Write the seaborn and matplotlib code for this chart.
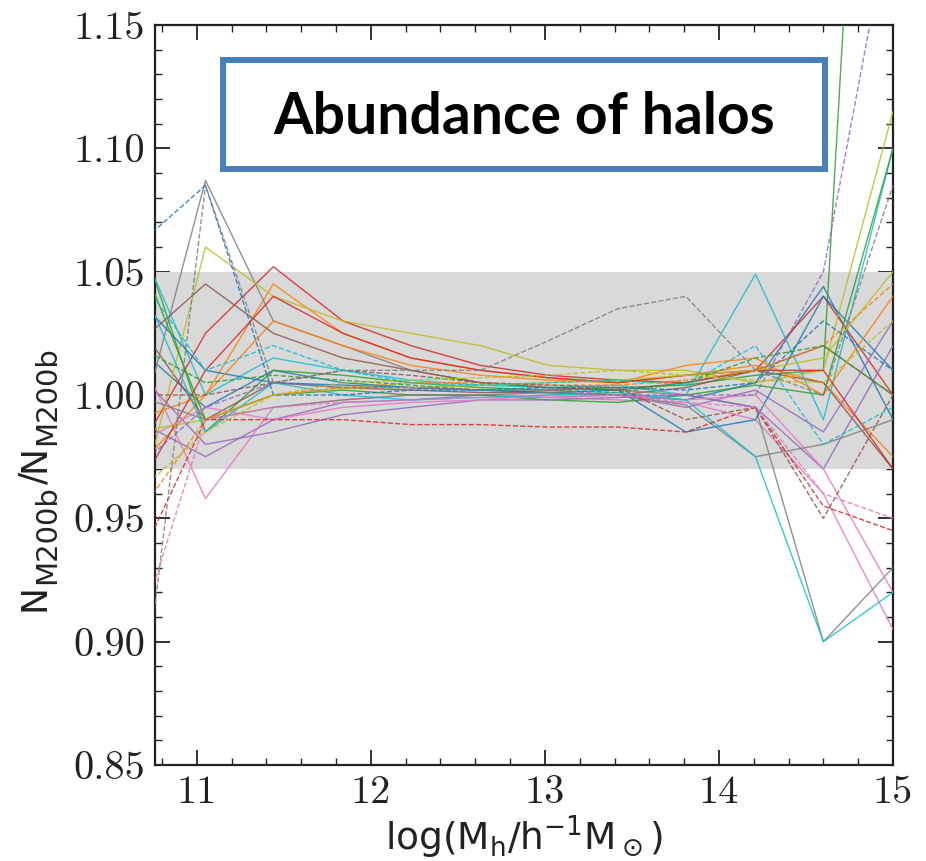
import numpy as np
import pandas as pd
import matplotlib
matplotlib.use("Agg")
import matplotlib.pyplot as plt
from matplotlib.patches import Rectangle
from matplotlib.transforms import IdentityTransform
from matplotlib.ticker import MultipleLocator, FormatStrFormatter
import seaborn as sns

# ---- data ----
log_mass = [10.65, 11.05, 11.44, 11.84, 12.23, 12.63, 13.02, 13.42, 13.81, 14.21, 14.60, 15.00]

solid_set1 = [
    [1.020, 0.995, 1.010, 1.005, 1.003, 1.002, 1.001, 1.000, 0.998, 1.005, 1.044, 0.990],
    [0.970, 1.000, 1.045, 1.025, 1.015, 1.010, 1.007, 1.005, 1.008, 1.012, 1.005, 0.975],
    [1.070, 0.985, 1.010, 1.008, 1.005, 1.003, 1.002, 1.003, 1.004, 1.008, 1.010, 1.500],
    [0.975, 1.025, 1.052, 1.030, 1.020, 1.012, 1.008, 1.006, 1.005, 1.010, 1.040, 1.000],
    [0.990, 0.975, 0.990, 0.997, 0.998, 1.000, 0.999, 1.000, 0.995, 1.002, 0.985, 1.030],
    [1.030, 0.990, 1.005, 1.003, 1.002, 1.001, 1.001, 1.000, 1.003, 1.010, 1.005, 0.970],
    [1.020, 0.958, 0.995, 0.998, 1.000, 1.000, 0.999, 0.998, 0.997, 0.990, 0.960, 0.905],
    [0.980, 1.087, 1.030, 1.020, 1.010, 1.005, 1.003, 1.002, 1.000, 0.995, 0.900, 0.930],
    [0.950, 1.060, 1.040, 1.030, 1.025, 1.020, 1.012, 1.010, 1.010, 1.005, 1.010, 1.115],
    [1.065, 1.000, 1.015, 1.010, 1.006, 1.004, 1.003, 1.004, 1.000, 1.049, 0.990, 1.100],
]
solid_set2 = [
    [1.040, 1.010, 1.005, 1.004, 1.003, 1.002, 1.001, 1.002, 0.985, 0.990, 1.040, 1.010],
    [0.990, 1.000, 1.030, 1.020, 1.012, 1.008, 1.006, 1.005, 1.012, 1.015, 1.000, 1.040],
    [1.060, 0.990, 1.000, 1.002, 1.000, 1.000, 0.998, 0.997, 1.000, 1.004, 1.000, 1.100],
    [0.960, 1.010, 1.040, 1.025, 1.015, 1.010, 1.007, 1.005, 1.008, 1.010, 1.010, 0.970],
    [1.010, 0.980, 0.985, 0.992, 0.995, 0.998, 0.998, 0.999, 1.000, 0.995, 0.970, 1.020],
    [1.020, 1.045, 1.025, 1.015, 1.010, 1.005, 1.003, 1.002, 1.005, 1.010, 1.020, 1.000],
    [0.980, 0.995, 0.990, 0.995, 0.997, 0.998, 1.000, 1.000, 0.998, 1.000, 0.970, 0.920],
    [1.000, 0.990, 0.995, 0.998, 1.000, 1.000, 1.001, 1.000, 0.996, 0.975, 0.980, 0.990],
    [0.985, 0.990, 1.000, 1.003, 1.003, 1.004, 1.005, 1.006, 1.008, 1.010, 1.015, 1.050],
    [1.050, 0.985, 1.005, 1.000, 0.998, 0.999, 1.000, 1.001, 0.998, 0.975, 0.900, 0.920],
]
dashed_set = [
    [1.060, 1.085, 1.000, 1.000, 1.002, 1.002, 1.003, 1.003, 1.002, 1.005, 1.030, 1.010],
    [0.950, 0.990, 1.000, 1.003, 1.005, 1.005, 1.004, 1.004, 1.006, 1.010, 1.020, 1.045],
    [1.020, 1.005, 1.008, 1.006, 1.004, 1.002, 1.002, 1.001, 1.005, 1.015, 1.020, 1.000],
    [0.930, 0.990, 0.990, 0.990, 0.988, 0.988, 0.987, 0.987, 0.985, 0.995, 0.955, 0.945],
    [0.970, 0.995, 1.005, 1.003, 1.003, 1.002, 1.002, 1.000, 1.000, 1.000, 1.050, 1.200],
    [1.000, 1.000, 1.005, 1.010, 1.008, 1.005, 1.004, 1.003, 0.990, 0.995, 0.950, 1.000],
    [0.900, 0.990, 0.995, 0.997, 0.998, 0.999, 0.999, 1.000, 0.997, 0.995, 0.960, 0.950],
    [0.850, 1.085, 1.005, 1.010, 1.010, 1.010, 1.022, 1.035, 1.040, 1.010, 1.000, 1.085],
    [0.960, 0.985, 1.000, 1.005, 1.006, 1.007, 1.008, 1.010, 1.008, 1.006, 1.005, 1.030],
    [1.050, 1.010, 1.020, 1.010, 1.005, 1.004, 1.005, 1.006, 1.004, 1.020, 0.980, 0.995],
]

x_ticks = [11, 12, 13, 14, 15]
y_ticks = [0.85, 0.90, 0.95, 1.00, 1.05, 1.10, 1.15]
band_low, band_high = 0.97, 1.05
title_text = "Abundance of halos"
ylabel_parts = ["N", "M200b", "/", "N", "M200b"]

# ---- figure ----
sns.set_style("ticks")
fig = plt.figure(figsize=(9.26, 8.61), dpi=100)
ax = fig.add_axes([155 / 926, 1 - 765 / 861, (893 - 155) / 926, (765 - 25) / 861])

palette = sns.color_palette("tab10", 10)

for group, style in [(solid_set1, "-"), (solid_set2, "-"), (dashed_set, "--")]:
    for i, vals in enumerate(group):
        df = pd.DataFrame({"x": log_mass, "y": vals})
        sns.lineplot(data=df, x="x", y="y", ax=ax, color=palette[i],
                     linestyle=style, linewidth=1.0, alpha=0.85,
                     estimator=None, sort=False, legend=False, zorder=3)

ax.axhspan(band_low, band_high, color="#d9d9d9", zorder=1, lw=0)

ax.set_xlim(10.76, 15.0)
ax.set_ylim(0.85, 1.15)
ax.set_xticks(x_ticks)
ax.set_yticks(y_ticks)
ax.xaxis.set_minor_locator(MultipleLocator(0.2))
ax.yaxis.set_minor_locator(MultipleLocator(0.01))
ax.yaxis.set_major_formatter(FormatStrFormatter("%.2f"))
ax.tick_params(which="both", direction="in", top=True, right=True, colors="#222222")
ax.tick_params(which="major", length=11, width=1.3, labelsize=29, pad=7)
ax.tick_params(which="minor", length=5, width=1.0)
for lab in ax.get_xticklabels() + ax.get_yticklabels():
    lab.set_fontfamily("cmr10")
for sp in ax.spines.values():
    sp.set_linewidth(1.6)
    sp.set_color("#222222")
    sp.set_visible(True)

ax.set_xlabel(r"$\log(\mathrm{M_h/h^{-1}M_\odot})$", fontsize=27,
              math_fontfamily="dejavusans", color="#222222", labelpad=2)
ax.set_ylabel("")

# y label built from pieces (subscripts nearly full size, as in the reference)
renderer = fig.canvas.get_renderer()
y_cursor = 861 - 611
base_x = 44
for k, part in enumerate(ylabel_parts):
    is_sub = part.startswith("M")
    t = fig.text(base_x + (11 if is_sub else 0), y_cursor, part,
                 rotation=90, rotation_mode="anchor", ha="left", va="baseline",
                 fontsize=21 if is_sub else 26, color="#222222",
                 family="DejaVu Sans", transform=IdentityTransform())
    bb = t.get_window_extent(renderer)
    y_cursor = bb.y1 + (1 if is_sub else 0)

# title box
fig.patches.append(Rectangle((223 / 926, 1 - 169 / 861), (825 - 223) / 926, (169 - 60) / 861,
                             transform=fig.transFigure, facecolor="white",
                             edgecolor="#4A7EBB", linewidth=4.3, zorder=10))
fig.text(524 / 926, 1 - 117 / 861, title_text, ha="center", va="center",
         fontsize=41, fontweight="bold", family="Lato", color="black", zorder=11)

fig.savefig("out.png", dpi=100)
